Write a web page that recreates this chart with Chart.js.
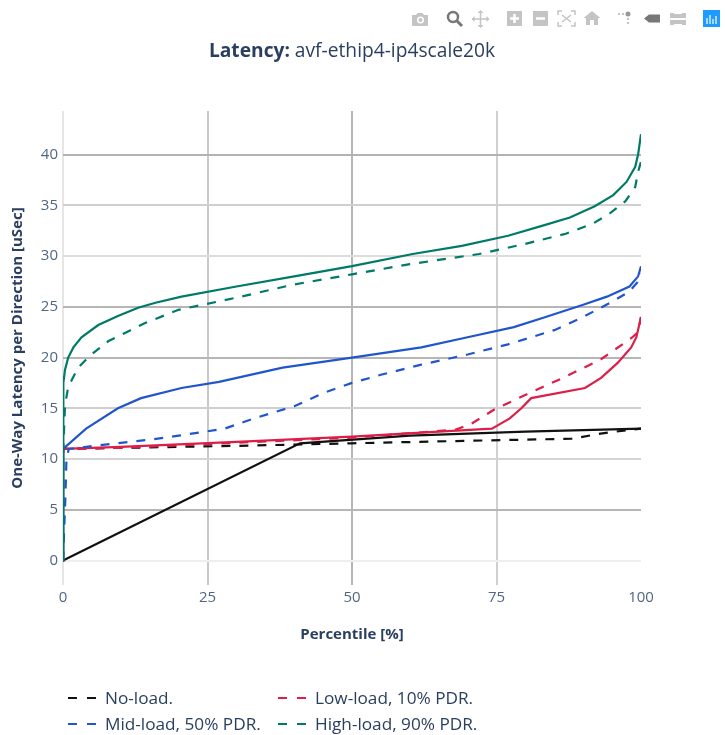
<!DOCTYPE html>
<html>
<head>
<meta charset="utf-8">
<title>Latency</title>
<script src="https://cdn.jsdelivr.net/npm/chart.js@4"></script>
<style>
body { margin: 0; background: #fff; font-family: "Open Sans", sans-serif; }
#wrap { position: relative; width: 725px; height: 735px; overflow: hidden; }
#plot { position: absolute; left: 0; top: 0; }
#title { position: absolute; left: 0; width: 704px; top: 38px; text-align: center; font-size: 19.2px; color: #2a3f5f; line-height: 24px; }
#modebar { position: absolute; left: 405px; top: 5px; }
.item { position: absolute; font-size: 17.2px; color: #2a3f5f; line-height: 22px; white-space: nowrap; }
.item svg { position: absolute; left: -37px; top: 0; }
</style>
</head>
<body>
<div id="wrap">
  <canvas id="plot" width="725" height="735"></canvas>
  <div id="title"><b>Latency:</b> avf-ethip4-ip4scale20k</div>
  <svg id="modebar" width="320" height="30" viewBox="405 5 320 30">
    <g fill="#c4c4c4">
      <path d="M412 15h4l1.5-2h5l1.5 2h4v11h-16z"/>
      <path d="M507 11h15v15h-15z"/>
      <path d="M533 11h15v15h-15z"/>
      <path d="M592 11l8.500 7h-2.500v7h-4v-5h-4v5h-4v-7h-2.500z"/>
      <path d="M670 13h4v1h8v-1h4v5h-16zM670 20h16v5h-4v-1h-8v1h-4z"/>
      <circle cx="628" cy="14" r="2.500" fill="#999"/>
      <path d="M618 13h2v2h-2zM622 13h2v2h-2zM627 18h2v2h-2zM627 22h2v2h-2z"/>
    </g>
    <circle cx="420.500" cy="20" r="3.500" fill="#fff"/>
    <circle cx="420.500" cy="20" r="2" fill="#c4c4c4"/>
    <path d="M510 18.500h9M514.500 14v9M536 18.500h9" stroke="#fff" stroke-width="2.500"/>
    <circle cx="453" cy="17" r="5" fill="none" stroke="#777" stroke-width="2.500"/>
    <path d="M457 21l5 5" stroke="#777" stroke-width="3"/>
    <path d="M480.500 11v16M472.500 19h16" stroke="#c4c4c4" stroke-width="1.500"/>
    <path d="M480.500 10l-3 3h6zM480.500 28l-3-3h6zM471.500 19l3-3v6zM489.500 19l-3-3v6z" fill="#c4c4c4"/>
    <path d="M558 15v-4h4M571 11h4v4M575 22v4h-4M562 26h-4v-4" fill="none" stroke="#c4c4c4" stroke-width="1.500"/>
    <path d="M562 15l9 7M571 15l-9 7" stroke="#c4c4c4" stroke-width="1.500"/>
    <path d="M644 18.500l5-4h11v8h-11z" fill="#777"/>
    <rect x="703" y="10" width="17" height="17" fill="#1e9bff"/>
    <path d="M707 18v6M710 15v9M713 19v5M716 16v8" stroke="#fff" stroke-width="1.200"/>
  </svg>
  <div id="legend"></div>
</div>
<script>
const yTicks = [0, 5, 10, 15, 20, 25, 30, 35, 40];
const xTicks = [0, 25, 50, 75, 100];

const seriesNames = ["No-load.", "Low-load, 10% PDR.", "Mid-load, 50% PDR.", "High-load, 90% PDR."];

const noSolidX = [0, 41, 60, 80, 100];
const noSolidY = [0, 11.55, 12.3, 12.7, 13];
const noDashX = [0, 0.01, 10, 20, 30, 50, 70, 88, 93, 97, 100];
const noDashY = [0, 11, 11.1, 11.2, 11.3, 11.55, 11.8, 12, 12.5, 12.8, 13];

const lowSolidX = [0, 0.02, 10, 30, 50, 62, 74.2, 77.3, 79.3, 81, 90.3, 93.1, 96, 98.3, 99.2, 100];
const lowSolidY = [0, 11, 11.2, 11.7, 12.2, 12.6, 13, 14, 15, 16, 17, 18, 19.5, 21, 22, 24];
const lowDashX = [0, 0.02, 10, 30, 50, 68, 70.7, 74.7, 80.7, 86.5, 93, 98.3, 99.5, 100];
const lowDashY = [0, 11, 11.1, 11.6, 12.1, 12.9, 13.5, 14.9, 16.5, 18, 19.8, 21.9, 22.5, 24];

const midSolidX = [0, 0.02, 4, 9.5, 13.5, 20.5, 27, 38, 50, 62, 70, 78, 83.5, 90, 94.1, 98, 99.5, 100];
const midSolidY = [0, 11, 13, 15, 16, 17, 17.6, 19, 20, 21, 22, 23, 24, 25.2, 26, 27, 28, 29];
const midDashX = [0, 0.2, 0.4, 0.6, 1, 10, 15, 20, 28, 33, 40, 45, 50, 55, 62, 70, 77, 85, 90, 95, 98, 99.5, 100];
const midDashY = [0, 3, 6, 10, 11, 11.6, 11.9, 12.3, 13, 14, 15.2, 16.5, 17.5, 18.3, 19.3, 20.3, 21.3, 22.7, 24, 25.5, 26.5, 27.5, 28.3];

const highSolidX = [0, 0.02, 0.1, 0.35, 0.9, 1.8, 3.2, 6.1, 9.5, 13, 16, 20.5, 30, 40, 50, 60.5, 69, 77, 83, 87.7, 92, 95.2, 97.5, 99, 99.5, 100];
const highSolidY = [0, 11, 17.5, 18.8, 20, 21, 22, 23.2, 24.1, 24.9, 25.4, 26, 27, 28, 29, 30.2, 31, 32, 33, 33.8, 34.9, 36, 37.3, 38.8, 40, 42];
const highDashX = [0, 0.05, 0.35, 0.9, 2.6, 4.7, 7.8, 11, 14.2, 20, 30, 40, 50, 60, 72, 80, 87, 91.7, 94.6, 97.3, 99, 99.5, 100];
const highDashY = [0, 11, 15.3, 17.1, 19, 20.2, 21.6, 22.5, 23.4, 24.7, 25.9, 27.2, 28.2, 29.2, 30.2, 31.2, 32.2, 33.2, 34.2, 35.4, 36.8, 38.3, 39.3];

const colors = ["#111111", "#dc1f48", "#2055cc", "#007a68"];

// grid lines in the reference fall on half pixels, so each one looks a bit different
const yGridColor = { 0: "#eeeeee", 5: "#b6b6b6", 10: "#d4d4d4", 15: "#cfcfcf", 20: "#b6b6b6", 25: "#b6b6b6", 30: "#dcdcdc", 35: "#cfcfcf", 40: "#b2b2b2" };
const xGridColor = { 0: "#e6e6e6", 25: "#c8c8c8", 50: "#b6b6b6", 75: "#d0d0d0", 100: "rgba(0,0,0,0)" };

function makeLine(xs, ys, color, dashed, order) {
    return {
        data: xs.map((x, i) => ({ x: x, y: ys[i] })),
        borderColor: color,
        borderWidth: 2.2,
        borderDash: dashed ? [9, 9] : [],
        pointRadius: 0,
        tension: 0,
        fill: false,
        order: order
    };
}

const datasets = [
    makeLine(noDashX, noDashY, colors[0], true, 8),
    makeLine(noSolidX, noSolidY, colors[0], false, 7),
    makeLine(lowDashX, lowDashY, colors[1], true, 6),
    makeLine(lowSolidX, lowSolidY, colors[1], false, 5),
    makeLine(midDashX, midDashY, colors[2], true, 4),
    makeLine(midSolidX, midSolidY, colors[2], false, 3),
    makeLine(highDashX, highDashY, colors[3], true, 2),
    makeLine(highSolidX, highSolidY, colors[3], false, 1)
];

new Chart(document.getElementById("plot"), {
    type: "line",
    data: { datasets: datasets },
    options: {
        responsive: false,
        animation: false,
        layout: { padding: { top: 111, right: 84, left: 0, bottom: 0 } },
        plugins: { legend: { display: false }, tooltip: { enabled: false } },
        scales: {
            x: {
                type: "linear",
                min: 0,
                max: 100,
                afterBuildTicks: axis => { axis.ticks = xTicks.map(v => ({ value: v })); },
                afterFit: axis => { axis.height = 150; },
                grid: { lineWidth: 2, drawTicks: false, color: c => xGridColor[c.tick.value] },
                border: { display: false },
                ticks: { color: "#506784", font: { family: "Open Sans", size: 15 }, padding: 4, maxRotation: 0 },
                title: {
                    display: true,
                    text: "Percentile [%]",
                    color: "#2a3f5f",
                    font: { family: "Open Sans", size: 15, weight: "bold" },
                    padding: { top: 0, bottom: 91 }
                }
            },
            y: {
                type: "linear",
                min: -2.41,
                max: 44.29,
                afterBuildTicks: axis => { axis.ticks = yTicks.map(v => ({ value: v })); },
                afterFit: axis => { axis.width = 63; },
                grid: { lineWidth: 2, drawTicks: false, color: c => yGridColor[c.tick.value] },
                border: { display: false },
                ticks: { color: "#506784", font: { family: "Open Sans", size: 15 }, padding: 5 },
                title: {
                    display: true,
                    text: "One-Way Latency per Direction [uSec]",
                    color: "#2a3f5f",
                    font: { family: "Open Sans", size: 15, weight: "bold" },
                    padding: { top: 9, bottom: 0 }
                }
            }
        }
    }
});

// legend as html, two columns
const legendPos = [[105, 687], [315, 687], [105, 713], [315, 713]];
const legendBox = document.getElementById("legend");
seriesNames.forEach((name, i) => {
    const el = document.createElement("div");
    el.className = "item";
    el.style.left = legendPos[i][0] + "px";
    el.style.top = legendPos[i][1] + "px";
    el.innerHTML = '<svg width="30" height="22"><line x1="0" y1="11" x2="30" y2="11" stroke="' + colors[i] +
        '" stroke-width="2" stroke-dasharray="9 10"/></svg>' + name;
    legendBox.appendChild(el);
});
</script>
</body>
</html>
